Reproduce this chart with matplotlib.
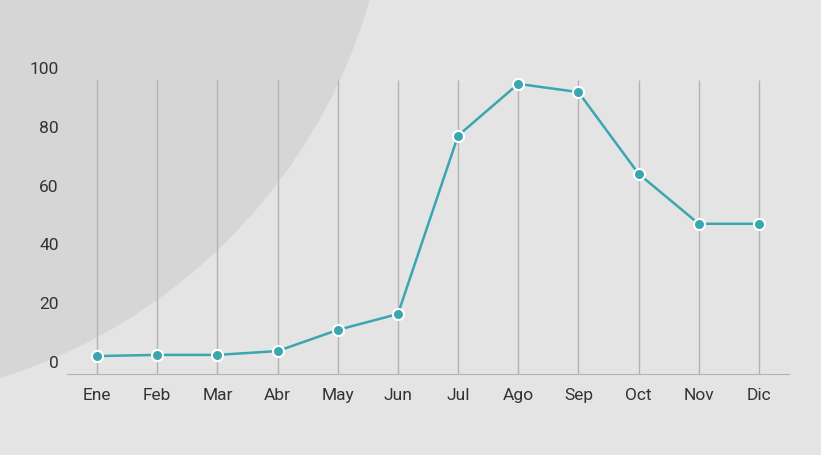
import matplotlib
matplotlib.use("Agg")
import matplotlib.pyplot as plt
from matplotlib.patches import Circle
from matplotlib.transforms import IdentityTransform

months = ["Ene","Feb","Mar","Abr","May","Jun","Jul","Ago","Sep","Oct","Nov","Dic"]
values = [2.0, 2.4, 2.4, 3.7, 10.9, 16.3, 77.0, 94.6, 91.8, 64.0, 47.0, 47.0]
yticks = [0, 20, 40, 60, 80, 100]

plt.rcParams['font.family'] = ['Liberation Sans Narrow', 'Roboto', 'DejaVu Sans']
fig = plt.figure(figsize=(8.21, 4.55), dpi=100, facecolor='#e4e4e4')
fig.patches.append(Circle((-168, 611), 560, transform=IdentityTransform(),
                          facecolor='#d6d6d6', edgecolor='none', zorder=0))
ax = fig.add_axes([67/821, 1-374/455, 722/821, 306/455])
ax.set_zorder(2)
ax.set_facecolor('none')
x = list(range(len(months)))
ax.vlines(x, -4.1, 95.9, color='#b3b3b3', lw=1, zorder=1)
ax.plot(x, values, color='#3aa6b0', lw=1.8, marker='o', markersize=8,
        markerfacecolor='#3aa6b0', markeredgecolor='white', markeredgewidth=1.5, zorder=3)
ax.set_xlim(-0.5, 11.5)
ax.set_ylim(-4.1, 100)
ax.set_xticks(x)
ax.set_xticklabels(months)
ax.set_yticks(yticks)
ax.tick_params(axis='both', length=0, labelsize=12.5, colors='#333333')
ax.tick_params(axis='x', pad=10)
ax.tick_params(axis='y', pad=6)
for s in ['top', 'right', 'left']:
    ax.spines[s].set_visible(False)
ax.spines['bottom'].set_color('#b3b3b3')
fig.savefig('out.png', dpi=100, facecolor=fig.get_facecolor())
